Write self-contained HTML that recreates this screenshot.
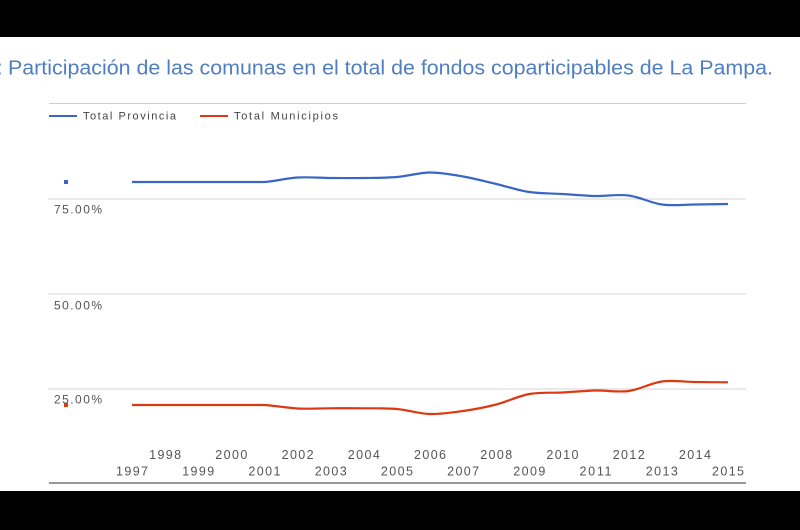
<!DOCTYPE html>
<html><head><meta charset="utf-8"><style>
html,body{margin:0;padding:0;background:#000;}
svg{display:block;}
</style></head><body>
<svg width="800" height="530" viewBox="0 0 800 530" xmlns="http://www.w3.org/2000/svg">
<rect x="0" y="0" width="800" height="530" fill="#000"/>
<rect x="0" y="37" width="800" height="454" fill="#fff"/>
<text x="-3" y="74.5" font-family="Liberation Sans, sans-serif" font-size="20" fill="#4f7fc0">:</text>
<text x="8" y="74.5" font-family="Liberation Sans, sans-serif" font-size="20" fill="#4f7fc0" textLength="765" lengthAdjust="spacingAndGlyphs">Participación de las comunas en el total de fondos coparticipables de La Pampa.</text>
<line x1="49" y1="103.5" x2="746" y2="103.5" stroke="#cfcfcf" stroke-width="1"/>
<line x1="49" y1="116" x2="77" y2="116" stroke="#3a67c6" stroke-width="2"/>
<text x="83" y="119.5" font-family="Liberation Sans, sans-serif" font-size="11" fill="#444" textLength="93" lengthAdjust="spacing">Total Provincia</text>
<line x1="200" y1="116" x2="228" y2="116" stroke="#dc3912" stroke-width="2"/>
<text x="234" y="119.5" font-family="Liberation Sans, sans-serif" font-size="11" fill="#444" textLength="104" lengthAdjust="spacing">Total Municipios</text>
<line x1="48" y1="199" x2="746" y2="199" stroke="#d6d6d6" stroke-width="1"/>
<line x1="48" y1="294" x2="746" y2="294" stroke="#d6d6d6" stroke-width="1"/>
<line x1="48" y1="389" x2="746" y2="389" stroke="#d6d6d6" stroke-width="1"/>
<g font-family="Liberation Sans, sans-serif" font-size="12" fill="#555">
<text x="54" y="213.5" textLength="48" lengthAdjust="spacing">75.00%</text>
<text x="54" y="309.5" textLength="48" lengthAdjust="spacing">50.00%</text>
<text x="54" y="403.5" textLength="48" lengthAdjust="spacing">25.00%</text>
</g>
<rect x="64" y="180" width="4" height="4" fill="#3a67c6"/>
<rect x="64" y="403" width="4" height="4" fill="#dc3912"/>
<path fill="none" stroke="#3a67c6" stroke-width="2.2" d="M132,182 L264.4,182 C275.4,181.25 286.6,178.17 297.6,177.5 C308.6,176.83 319.7,177.92 330.7,178 C341.7,178.08 352.8,178.17 363.8,178 C374.8,177.83 385.9,177.92 396.9,177 C407.9,176.08 419.0,172.58 430.0,172.5 C441.0,172.42 452.1,174.58 463.1,176.5 C474.1,178.42 485.2,181.42 496.2,184 C507.2,186.58 518.3,190.33 529.3,192 C540.3,193.67 551.4,193.33 562.4,194 C573.4,194.67 584.5,195.75 595.5,196 C606.5,196.25 617.7,194.08 628.7,195.5 C639.7,196.92 650.8,203 661.8,204.5 C672.8,206 683.9,204.58 694.9,204.5 C705.9,204.42 717.0,204.08 728,204"/>
<path fill="none" stroke="#dc3912" stroke-width="2.2" d="M132,405 L264.4,405 C275.4,405.58 286.6,407.95 297.6,408.5 C308.6,409.05 319.7,408.33 330.7,408.3 C341.7,408.27 352.8,408.18 363.8,408.3 C374.8,408.42 385.9,408.05 396.9,409 C407.9,409.95 419.0,413.67 430.0,414 C441.0,414.33 452.1,412.58 463.1,411 C474.1,409.42 485.2,407.33 496.2,404.5 C507.2,401.67 518.3,396 529.3,394 C540.3,392 551.4,393.08 562.4,392.5 C573.4,391.92 584.5,390.75 595.5,390.5 C606.5,390.25 617.7,392.5 628.7,391 C639.7,389.5 650.8,383 661.8,381.5 C672.8,380 683.9,381.87 694.9,382 C705.9,382.13 717.0,382.25 728,382.3"/>
<g font-family="Liberation Sans, sans-serif" font-size="12.5" fill="#555" text-anchor="middle">
<text x="165.1" y="459" textLength="32" lengthAdjust="spacing">1998</text>
<text x="231.3" y="459" textLength="32" lengthAdjust="spacing">2000</text>
<text x="297.6" y="459" textLength="32" lengthAdjust="spacing">2002</text>
<text x="363.8" y="459" textLength="32" lengthAdjust="spacing">2004</text>
<text x="430.0" y="459" textLength="32" lengthAdjust="spacing">2006</text>
<text x="496.2" y="459" textLength="32" lengthAdjust="spacing">2008</text>
<text x="562.4" y="459" textLength="32" lengthAdjust="spacing">2010</text>
<text x="628.7" y="459" textLength="32" lengthAdjust="spacing">2012</text>
<text x="694.9" y="459" textLength="32" lengthAdjust="spacing">2014</text>
<text x="132" y="475.5" textLength="32" lengthAdjust="spacing">1997</text>
<text x="198.2" y="475.5" textLength="32" lengthAdjust="spacing">1999</text>
<text x="264.4" y="475.5" textLength="32" lengthAdjust="spacing">2001</text>
<text x="330.7" y="475.5" textLength="32" lengthAdjust="spacing">2003</text>
<text x="396.9" y="475.5" textLength="32" lengthAdjust="spacing">2005</text>
<text x="463.1" y="475.5" textLength="32" lengthAdjust="spacing">2007</text>
<text x="529.3" y="475.5" textLength="32" lengthAdjust="spacing">2009</text>
<text x="595.5" y="475.5" textLength="32" lengthAdjust="spacing">2011</text>
<text x="661.8" y="475.5" textLength="32" lengthAdjust="spacing">2013</text>
<text x="728" y="475.5" textLength="32" lengthAdjust="spacing">2015</text>
</g>
<line x1="49" y1="483" x2="746" y2="483" stroke="#333" stroke-width="1"/>
</svg>
</body></html>
